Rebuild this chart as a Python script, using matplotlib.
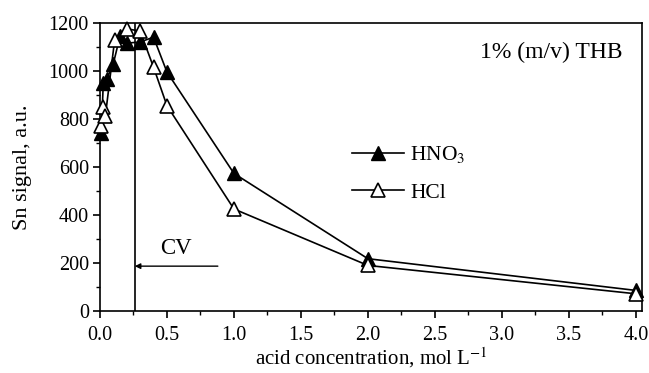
import numpy as np
import matplotlib
matplotlib.use('agg')
import matplotlib.pyplot as plt
from matplotlib.ticker import MultipleLocator

plt.rcParams['font.family'] = ['Liberation Serif', 'DejaVu Serif']
plt.rcParams['mathtext.fontset'] = 'stix'

# acid concentration (mol/L) and Sn signal (a.u.)
x_hno3 = [0.01, 0.025, 0.05, 0.1, 0.15, 0.2, 0.3, 0.4, 0.5, 1.0, 2.0, 4.0]
y_hno3 = [740, 950, 965, 1030, 1145, 1115, 1120, 1140, 995, 573, 218, 86]
x_hcl = [0.01, 0.02, 0.04, 0.11, 0.2, 0.3, 0.4, 0.5, 1.0, 2.0, 4.0]
y_hcl = [770, 850, 810, 1130, 1175, 1165, 1015, 855, 425, 190, 72]
cv_x = 0.26

fig = plt.figure(figsize=(6.49, 3.73), dpi=100)
ax = fig.add_axes([0.154, 0.166, 0.835, 0.773])

ax.plot(x_hno3, y_hno3, '-^', color='black', mfc='black', mec='black',
        ms=10.5, lw=1.2, label='HNO$_3$', clip_on=False, zorder=3)
ax.plot(x_hcl, y_hcl, '-^', color='black', mfc='white', mec='black',
        ms=10.5, lw=1.2, mew=1.2, label='HCl', clip_on=False, zorder=3)

ax.axvline(cv_x, color='black', lw=1.2)
ax.annotate('', xy=(cv_x, 187), xytext=(0.88, 187),
            arrowprops=dict(arrowstyle='-|>', color='black', lw=1.0,
                            mutation_scale=8, shrinkA=0, shrinkB=0))
ax.text(0.57, 262, 'CV', fontsize=16.5, ha='center', va='center')
ax.text(3.9, 1075, '1% (m/v) THB', fontsize=17, ha='right', va='center')

ax.set_xlim(0, 4.045)
ax.set_ylim(0, 1200)
ax.xaxis.set_major_locator(MultipleLocator(0.5))
ax.xaxis.set_minor_locator(MultipleLocator(0.25))
ax.yaxis.set_major_locator(MultipleLocator(200))
ax.yaxis.set_minor_locator(MultipleLocator(100))
ax.xaxis.set_major_formatter(plt.FormatStrFormatter('%.1f'))
ax.tick_params(which='major', direction='out', length=5, width=1.2,
               labelsize=14.5, pad=3)
ax.tick_params(axis='x', which='major', pad=6)
ax.tick_params(which='minor', direction='out', length=3, width=1.0)
for s in ax.spines.values():
    s.set_linewidth(1.2)

ax.set_xlabel('acid concentration, mol L$^{-1}$', fontsize=15, labelpad=0)
ax.set_ylabel('Sn signal, a.u.', fontsize=16, labelpad=12)

ax.legend(loc='upper left', bbox_to_anchor=(0.43, 0.645), frameon=False,
          fontsize=15.5, handlelength=2.4, handletextpad=0.3, labelspacing=0.8)

fig.savefig('out.png', dpi=100)
